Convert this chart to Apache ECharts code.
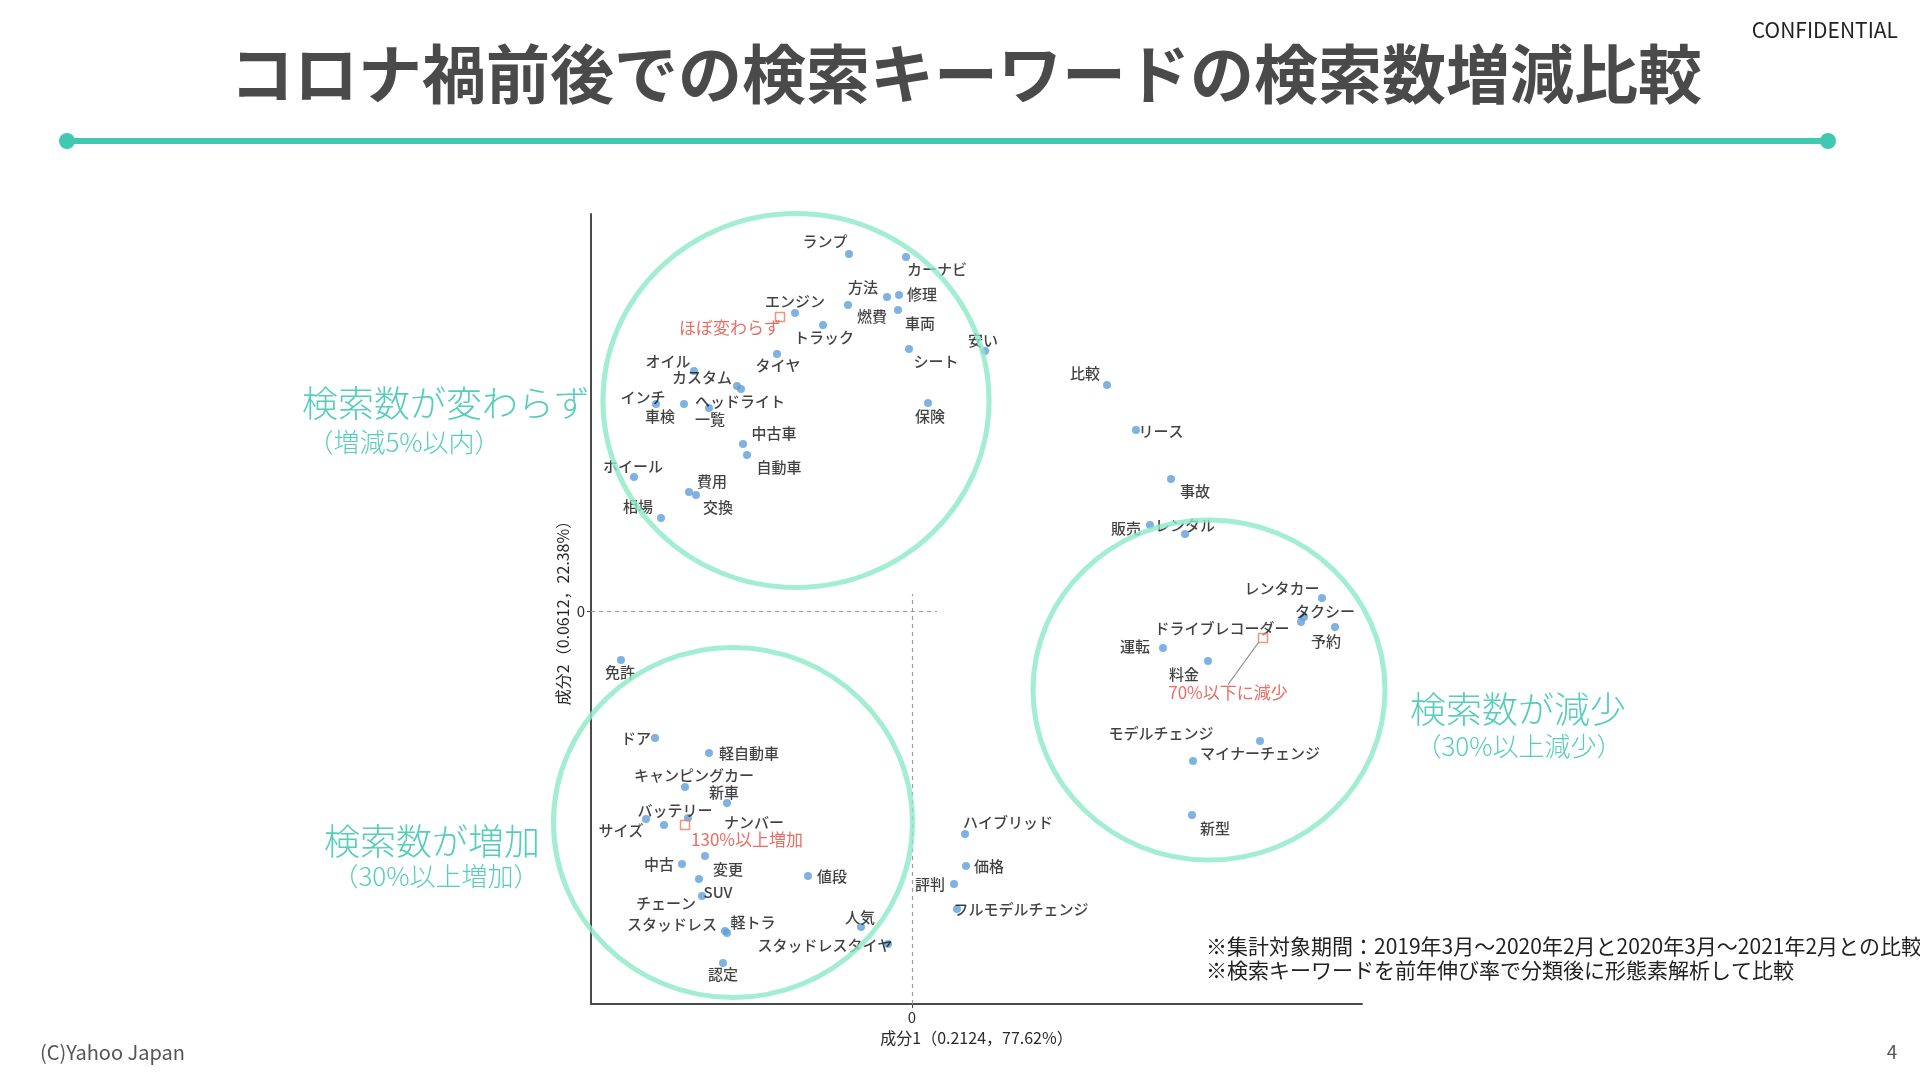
<!DOCTYPE html>
<html>
<head>
<meta charset="utf-8">
<script src="https://cdn.jsdelivr.net/npm/echarts@6/dist/echarts.min.js"></script>
<style>
  html, body { margin: 0; padding: 0; background: #ffffff; }
  #chart { width: 1920px; height: 1080px; }
</style>
</head>
<body>
<div id="chart"></div>
<script>
// ---------------- data ----------------
const keywords = [
  'ランプ','カーナビ','方法','修理','燃費','車両','エンジン','トラック','安い','シート',
  'タイヤ','オイル','カスタム','ヘッドライト','インチ','車検','一覧','保険','中古車','自動車',
  'ホイール','費用','交換','相場',
  '比較','リース','事故','販売','レンタル','レンタカー','タクシー','予約','ドライブレコーダー',
  '運転','料金','モデルチェンジ','マイナーチェンジ','新型',
  '免許','ドア','軽自動車','キャンピングカー','新車','サイズ','バッテリー','ナンバー','中古','変更',
  '値段','SUV','チェーン','スタッドレス','軽トラ','人気','スタッドレスタイヤ','認定',
  'ハイブリッド','価格','評判','フルモデルチェンジ'
];
const comp1 = [
  -0.063,-0.006,-0.025,-0.013,-0.064,-0.014,-0.117,-0.089, 0.073,-0.003,
  -0.135,-0.218,-0.175,-0.171,-0.256,-0.228,-0.203, 0.016,-0.169,-0.165,
  -0.278,-0.223,-0.216,-0.251,
   0.195, 0.224, 0.259, 0.238, 0.273, 0.410, 0.392, 0.423, 0.389,
   0.251, 0.296, 0.281, 0.348, 0.280,
  -0.291,-0.257,-0.203,-0.227,-0.185,-0.266,-0.248,-0.224,-0.230,-0.207,
  -0.104,-0.213,-0.210,-0.187,-0.185,-0.051,-0.024,-0.189,
   0.053, 0.054, 0.042, 0.045
];
const comp2 = [
   0.357, 0.354, 0.314, 0.316, 0.306, 0.301, 0.298, 0.286, 0.260, 0.262,
   0.257, 0.240, 0.225, 0.222, 0.207, 0.207, 0.203, 0.208, 0.167, 0.156,
   0.134, 0.119, 0.116, 0.093,
   0.226, 0.181, 0.132, 0.086, 0.077, 0.013,-0.006,-0.016,-0.011,
  -0.037,-0.050,-0.150,-0.130,-0.204,
  -0.049,-0.127,-0.142,-0.176,-0.192,-0.208,-0.214,-0.207,-0.253,-0.245,
  -0.265,-0.268,-0.285,-0.320,-0.322,-0.316,-0.333,-0.352,
  -0.223,-0.255,-0.273,-0.298
];
// group centroids
const centerNames = ['ほぼ変わらず', '130%以上増加', '70%以下に減少'];
const centerX = [-0.132, -0.227, 0.351];
const centerY = [0.294, -0.214, -0.027];
// group circles (centres in component coordinates)
const circleX = [-0.116, -0.179, 0.297];
const circleY = [0.2105, -0.2115, -0.079];

const xAxisName = '成分1（0.2124，77.62%）';
const yAxisName = '成分2（0.0612，22.38%）';
const xTickLabels = [0];
const yTickLabels = [0];

// ---------------- layout / style ----------------
const X_MIN = -0.321, X_MAX = 0.450, Y_MIN = -0.393, Y_MAX = 0.397;
const FONT = '"Noto Sans CJK JP", "Noto Sans", sans-serif';
const labelOffset = {
  'ランプ':[-24,-13],'カーナビ':[31,12],'方法':[-24,-10],'修理':[23,-1],'燃費':[24,11],
  '車両':[22,13],'エンジン':[0,-12],'トラック':[1,12],'安い':[-2,-11],'シート':[27,12],
  'タイヤ':[1,11],'オイル':[-26,-10],'カスタム':[-35,-9],'ヘッドライト':[-1,12],'インチ':[-13,-7],
  '車検':[-24,12],'一覧':[1,11],'保険':[2,13],'中古車':[31,-11],'自動車':[32,12],
  'ホイール':[-1,-11],'費用':[23,-11],'交換':[22,12],'相場':[-23,-12],
  '比較':[-22,-12],'リース':[25,1],'事故':[24,12],'販売':[-24,3],'レンタル':[0,-9],
  'レンタカー':[-40,-10],'タクシー':[21,-6],'予約':[-9,14],'ドライブレコーダー':[-79,6],
  '運転':[-28,-2],'料金':[-24,13],'モデルチェンジ':[-32,-28],'マイナーチェンジ':[0,12],'新型':[23,13],
  '免許':[-1,12],'ドア':[-19,0],'軽自動車':[40,0],'キャンピングカー':[9,-12],'新車':[-3,-11],
  'サイズ':[-25,11],'バッテリー':[11,-15],'ナンバー':[66,4],'中古':[-23,0],'変更':[23,13],
  '値段':[24,0],'SUV':[19,13],'チェーン':[-36,7],'スタッドレス':[-53,-7],'軽トラ':[26,-11],
  '人気':[-1,-10],'スタッドレスタイヤ':[-63,1],'認定':[0,11],
  'ハイブリッド':[43,-12],'価格':[23,0],'評判':[-24,0],'フルモデルチェンジ':[64,0]
};
const centerOffset = [[-50, 11], [62, 15]];
const circleSizes = [[386, 374], [359, 350], [352, 340]];
const ellipsePath = 'path://M0,-100 C55.23,-100 100,-55.23 100,0 C100,55.23 55.23,100 0,100 C-55.23,100 -100,55.23 -100,0 C-100,-55.23 -55.23,-100 0,-100 Z';

const teal = '#40C8B0';
const annoColor = '#55CDBD';

const chart = echarts.init(document.getElementById('chart'), null, { renderer: 'canvas' });

const pointData = keywords.map((n, i) => ({
  name: n,
  value: [comp1[i], comp2[i]],
  label: { offset: labelOffset[n] || [0, -12] }
}));

const centerData = centerNames.slice(0, 2).map((n, i) => ({
  name: n,
  value: [centerX[i], centerY[i]],
  label: { offset: centerOffset[i] }
}));

const option = {
  backgroundColor: '#ffffff',
  animation: false,
  textStyle: { fontFamily: FONT },
  grid: { left: 591, top: 214, width: 771, height: 790, containLabel: false },
  xAxis: {
    type: 'value', min: X_MIN, max: X_MAX,
    name: xAxisName, nameLocation: 'middle', nameGap: 25,
    nameTextStyle: { fontSize: 16, color: '#2a2a2a', fontFamily: FONT },
    axisLine: { show: true, onZero: false, lineStyle: { color: '#4a4a4a', width: 2 } },
    axisTick: { show: true, length: 4, customValues: xTickLabels, lineStyle: { color: '#4a4a4a' } },
    axisLabel: { show: true, customValues: xTickLabels, margin: 6, fontSize: 15, color: '#2a2a2a', formatter: v => String(Math.round(v)) },
    splitLine: { show: false }
  },
  yAxis: {
    type: 'value', min: Y_MIN, max: Y_MAX,
    name: yAxisName, nameLocation: 'middle', nameGap: 20, nameRotate: 90,
    nameTextStyle: { fontSize: 16, color: '#2a2a2a', fontFamily: FONT },
    axisLine: { show: true, onZero: false, lineStyle: { color: '#4a4a4a', width: 2 } },
    axisTick: { show: true, length: 4, customValues: yTickLabels, lineStyle: { color: '#4a4a4a' } },
    axisLabel: { show: true, customValues: yTickLabels, margin: 6, fontSize: 15, color: '#2a2a2a', formatter: v => String(Math.round(v)) },
    splitLine: { show: false }
  },
  series: [
    {
      name: 'keywords',
      type: 'scatter',
      z: 3,
      symbol: 'circle',
      symbolSize: 8,
      itemStyle: { color: '#5f9fd8' },
      label: {
        show: true, position: 'inside', formatter: '{b}',
        color: '#111111', fontSize: 15, fontWeight: 500, fontFamily: FONT
      },
      emphasis: { disabled: true },
      data: pointData,
      markLine: {
        silent: true,
        symbol: ['none', 'none'],
        label: { show: false },
        lineStyle: { type: [4, 4], color: '#9a9a9a', width: 1.2 },
        data: [
          [{ coord: [0, Y_MIN] }, { coord: [0, 0.017] }],
          [{ coord: [X_MIN, 0] }, { coord: [0.025, 0] }]
        ]
      }
    },
    {
      name: 'centers',
      type: 'scatter',
      z: 4,
      symbol: 'rect',
      symbolSize: 9,
      itemStyle: { color: 'rgba(255,255,255,0.6)', borderColor: '#F07855', borderWidth: 1.5 },
      label: { show: true, position: 'inside', formatter: '{b}', color: '#E5483D', fontSize: 17, fontFamily: FONT },
      emphasis: { disabled: true },
      data: centerData
    },
    {
      name: 'center-decrease',
      type: 'scatter',
      z: 4,
      symbol: 'rect',
      symbolSize: 9,
      itemStyle: { color: 'rgba(255,255,255,0.6)', borderColor: '#F07855', borderWidth: 1.5 },
      label: { show: true, position: 'inside', formatter: '{b}', color: '#E5483D', fontSize: 17, fontFamily: FONT },
      labelLayout: { dx: -35, dy: 55 },
      labelLine: { show: true, lineStyle: { color: '#8a8a8a', width: 1.2 } },
      emphasis: { disabled: true },
      data: [{ name: centerNames[2], value: [centerX[2], centerY[2]] }]
    },
    {
      name: 'groups',
      type: 'scatter',
      z: 10,
      silent: true,
      clip: false,
      symbol: ellipsePath,
      itemStyle: { color: 'rgba(0,0,0,0)', borderColor: '#8CEAC7', borderWidth: 5 },
      emphasis: { disabled: true },
      data: circleX.map((x, i) => ({ value: [x, circleY[i]], symbolSize: circleSizes[i] }))
    }
  ],
  graphic: [
    { type: 'text', x: 966, y: 74, style: { text: 'コロナ禍前後での検索キーワードの検索数増減比較', font: 'bold 64px ' + FONT, fill: '#4a4a4a', align: 'center', verticalAlign: 'middle' } },
    { type: 'text', x: 1898, y: 30, style: { text: 'CONFIDENTIAL', font: '21px ' + FONT, fill: '#222', align: 'right', verticalAlign: 'middle' } },
    { type: 'line', shape: { x1: 67, y1: 141, x2: 1828, y2: 141 }, style: { stroke: teal, lineWidth: 6 } },
    { type: 'circle', shape: { cx: 67, cy: 141, r: 8 }, style: { fill: teal } },
    { type: 'circle', shape: { cx: 1828, cy: 141, r: 8 }, style: { fill: teal } },

    { type: 'text', x: 446, y: 403, style: { text: '検索数が変わらず', font: '300 36px ' + FONT, fill: annoColor, align: 'center', verticalAlign: 'middle' } },
    { type: 'text', x: 404, y: 442, style: { text: '（増減5%以内）', font: '300 26px ' + FONT, fill: annoColor, align: 'center', verticalAlign: 'middle' } },
    { type: 'text', x: 432, y: 841, style: { text: '検索数が増加', font: '300 36px ' + FONT, fill: annoColor, align: 'center', verticalAlign: 'middle' } },
    { type: 'text', x: 436, y: 876, style: { text: '（30%以上増加）', font: '300 26px ' + FONT, fill: annoColor, align: 'center', verticalAlign: 'middle' } },
    { type: 'text', x: 1518, y: 709, style: { text: '検索数が減少', font: '300 36px ' + FONT, fill: annoColor, align: 'center', verticalAlign: 'middle' } },
    { type: 'text', x: 1519, y: 746, style: { text: '（30%以上減少）', font: '300 26px ' + FONT, fill: annoColor, align: 'center', verticalAlign: 'middle' } },

    { type: 'text', x: 1206, y: 946, style: { text: '※集計対象期間：2019年3月～2020年2月と2020年3月～2021年2月との比較', font: '21px ' + FONT, fill: '#222', align: 'left', verticalAlign: 'middle' } },
    { type: 'text', x: 1206, y: 970, style: { text: '※検索キーワードを前年伸び率で分類後に形態素解析して比較', font: '21px ' + FONT, fill: '#222', align: 'left', verticalAlign: 'middle' } },

    { type: 'text', x: 40, y: 1052, style: { text: '(C)Yahoo Japan', font: '20px ' + FONT, fill: '#555', align: 'left', verticalAlign: 'middle' } },
    { type: 'text', x: 1892, y: 1052, style: { text: '4', font: '19px ' + FONT, fill: '#555', align: 'center', verticalAlign: 'middle' } }
  ]
};

chart.setOption(option);
</script>
</body>
</html>
